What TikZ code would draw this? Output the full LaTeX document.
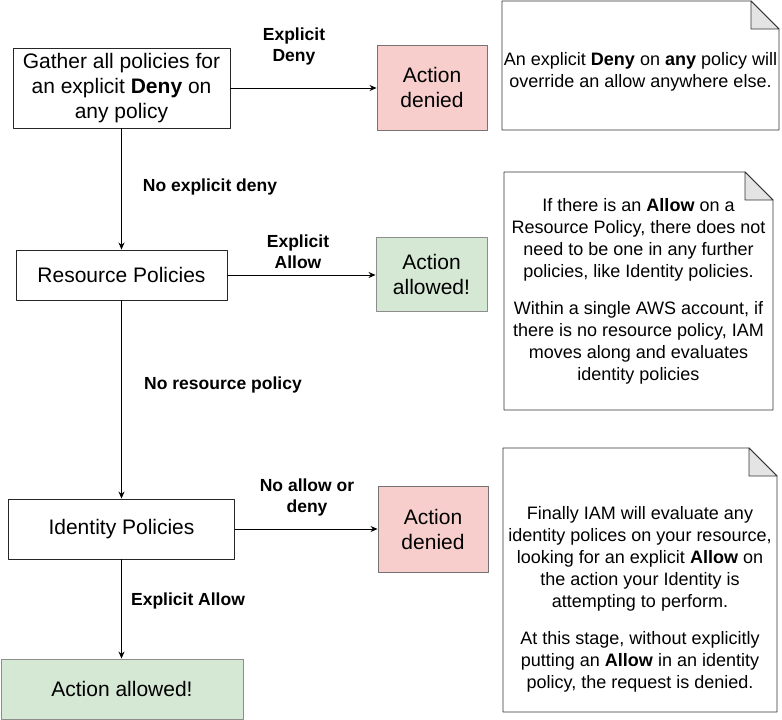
\documentclass[tikz,border=0pt]{standalone}
\usepackage{fontspec}
\setmainfont{Liberation Sans}
\usetikzlibrary{positioning,arrows.meta}

\definecolor{denyfill}{HTML}{F8CECC}
\definecolor{allowfill}{HTML}{D5E8D4}
\definecolor{foldfill}{HTML}{E4E4E4}

% dog-eared note outline: left, top, right, bottom
\newcommand{\dogear}[4]{%
  \draw[black!80, line width=0.9pt] (#1,#4) -- (#1,#2) -- (#3-28,#2) -- (#3,#2+28) -- (#3,#4) -- cycle;
  \draw[black!80, line width=0.9pt, fill=foldfill] (#3-28,#2) -- (#3-28,#2+28) -- (#3,#2+28) -- cycle;}

\tikzset{
  stepbox/.style={draw=black!85, line width=0.9pt, fill=white, inner sep=0pt, align=center,
    font=\fontsize{21}{25}\selectfont},
  denybox/.style={stepbox, draw=black!55, fill=denyfill},
  allowbox/.style={stepbox, draw=black!45, fill=allowfill},
  notetext/.style={inner sep=0pt, align=center, font=\fontsize{18}{22}\selectfont},
  edgelabel/.style={align=center, inner sep=0pt, font=\bfseries\fontsize{17.5}{21}\selectfont},
  flow/.style={->, line width=0.9pt, black}
}

\begin{document}
\begin{tikzpicture}[x=1pt, y=-1pt, line join=round, >={Stealth[length=7pt,width=6pt]}]
  \useasboundingbox (0,0) rectangle (782,720);

  % steps
  \node[stepbox, minimum width=217pt, minimum height=80pt] (gather) at (121.5,88)
    {Gather all policies for\\an explicit \textbf{Deny} on\\any policy};
  \node[stepbox, minimum width=211pt, minimum height=50pt] (resource) at (121.5,275) {Resource Policies};
  \node[stepbox, minimum width=226pt, minimum height=60pt] (identity) at (121.5,529) {Identity Policies};

  % outcomes
  \node[denybox, minimum width=110pt, minimum height=85pt] (denyA) at (432,87.5) {Action\\denied};
  \node[allowbox, minimum width=111pt, minimum height=74pt] (allowA) at (431.5,274) {Action\\allowed!};
  \node[denybox, minimum width=110pt, minimum height=86pt] (denyB) at (433,529) {Action\\denied};
  \node[allowbox, minimum width=242pt, minimum height=60pt] (allowB) at (122,689) {Action allowed!};

  % connectors
  \draw[flow] (gather.east) -- (denyA.west |- gather.east);
  \draw[flow] (gather.south) -- (gather.south |- resource.north);
  \draw[flow] (resource.east) -- (allowA.west |- resource.east);
  \draw[flow] (resource.south) -- (resource.south |- identity.north);
  \draw[flow] (identity.east) -- (denyB.west |- identity.east);
  \draw[flow] (identity.south) -- (identity.south |- allowB.north);

  % labels
  \node[edgelabel] (lblDeny) at (294,46) {Explicit\\Deny};
  \node[edgelabel] (lblNoDeny) at (210,187) {No explicit deny};
  \node[edgelabel] (lblAllow) at (298,252) {Explicit\\Allow};
  \node[edgelabel] (lblNoRes) at (223,385) {No resource policy};
  \node[edgelabel] (lblNone) at (307,497) {No allow or\\deny};
  \node[edgelabel] (lblAllowB) at (188,601) {Explicit Allow};

  % notes
  \dogear{502}{1}{779}{130}
  \dogear{504}{172}{773}{410}
  \dogear{503}{448}{777}{712}
  \node[notetext] (noteA) at (640.5,72)
    {An explicit \textbf{Deny} on \textbf{any} policy will\\override an allow anywhere else.};
  \node[notetext] (noteB) at (638.5,291)
    {If there is an \textbf{Allow} on a\\Resource Policy, there does not\\need to be one in any further\\policies, like Identity policies.\\[15pt]
     Within a single AWS account, if\\there is no resource policy, IAM\\moves along and evaluates\\identity policies};
  \node[notetext] (noteC) at (640,599)
    {Finally IAM will evaluate any\\identity polices on your resource,\\looking for an explicit \textbf{Allow} on\\the action your Identity is\\attempting to perform.\\[15pt]
     At this stage, without explicitly\\putting an \textbf{Allow} in an identity\\policy, the request is denied.};
\end{tikzpicture}
\end{document}
